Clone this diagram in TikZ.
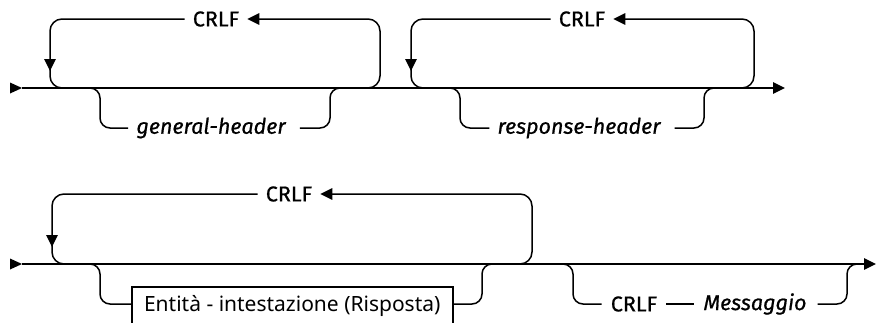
\documentclass[tikz,border=0pt]{standalone}
\usepackage{fontspec}
\setmainfont{Fira Sans}[FakeBold=0.7]
\newfontfamily\boxfont{Noto Sans}
\usetikzlibrary{arrows.meta}
\tikzset{
  rail/.style={line width=1.5pt, line cap=butt},
  tipend/.style={-{Triangle[length=12pt,width=11.5pt]}},
  loopc/.style={rounded corners=12pt},
  branchc/.style={rounded corners=10pt},
  lbl/.style={font=\fontsize{21.5}{24}\selectfont, inner xsep=8pt, inner ysep=2pt, anchor=center},
  ilbl/.style={lbl, font=\fontsize{21.5}{24}\selectfont\itshape},
  boxlbl/.style={draw, line width=1.5pt, font=\boxfont\fontsize{21}{24}\selectfont, minimum width=321pt, minimum height=38pt, inner xsep=6pt, anchor=north west},
}
\begin{document}
\begin{tikzpicture}[x=1pt,y=-1pt]
\useasboundingbox (0,0) rectangle (877,322);
\clip (0,0) rectangle (877,322);

% ---------- Row 1 ----------
\coordinate (s1t) at (22,88);
\coordinate (e1) at (785,88);
\fill (10,82.5) -- (s1t) -- (10,93.5) -- cycle;
\draw[rail, tipend] (s1t) -- (e1);

% loop 1
\node[lbl] (c1) at (216,19) {CRLF};
\coordinate (l1r) at (380,19);
\coordinate (l1a) at (50,71);
\coordinate (l1b) at (50,64);
\draw[rail, loopc, tipend] (350,88) -| (l1r) -- (c1.east);
\draw[rail, loopc, tipend] (c1.west) -| (l1a);
\draw[rail, loopc] (l1b) |- (80,88);

% branch general-header
\node[ilbl] (gh) at (211,128) {general-header};
\draw[rail, branchc] (80,88) -| (100,128) -- (gh.west);
\draw[rail, branchc] ([xshift=6pt]gh.east) -| (330,88) -- (350,88);

% loop 2
\node[lbl] (c2) at (582,19) {CRLF};
\coordinate (l2r) at (754,19);
\coordinate (l2a) at (411,71);
\coordinate (l2b) at (411,64);
\draw[rail, loopc, tipend] (725,88) -| (l2r) -- (c2.east);
\draw[rail, loopc, tipend] (c2.west) -| (l2a);
\draw[rail, loopc] (l2b) |- (440,88);

% branch response-header
\node[ilbl] (rh) at (579,128) {response-header};
\draw[rail, branchc] (440,88) -| (460,128) -- (rh.west);
\draw[rail, branchc] ([xshift=6pt]rh.east) -| (704,88) -- (725,88);

% ---------- Row 2 ----------
\coordinate (s2t) at (22,264);
\coordinate (e2) at (876,264);
\fill (10,258.5) -- (s2t) -- (10,269.5) -- cycle;
\draw[rail, tipend] (s2t) -- (e2);

% loop 3
\node[lbl] (c3) at (289,194) {CRLF};
\coordinate (l3r) at (532,194);
\coordinate (l3a) at (52,247);
\coordinate (l3b) at (52,240);
\draw[rail, loopc, tipend] (500,264) -| (l3r) -- (c3.east);
\draw[rail, loopc, tipend] (c3.west) -| (l3a);
\draw[rail, loopc] (l3b) |- (80,264);

% branch entity box
\node[boxlbl] (ent) at (131,286) {Entità - intestazione (Risposta)};
\draw[rail, branchc] (80,264) -| (100,304) -- (ent.west |- 0,304);
\draw[rail, branchc] (ent.east |- 0,304) -| (482,264) -- (500,264);

% branch CRLF Messaggio
\node[lbl, inner xsep=0pt] (c4) at (634,304) {CRLF};
\node[ilbl, inner xsep=0pt] (msg) at (755,304) {Messaggio};
\draw[rail, branchc] (553,264) -| (573,304) -- ([xshift=-9pt]c4.west);
\draw[rail] ([xshift=9pt]c4.east) -- ([xshift=-9pt]msg.west);
\draw[rail, branchc] ([xshift=11pt]msg.east) -| (847,264) -- (865,264);
\end{tikzpicture}
\end{document}
